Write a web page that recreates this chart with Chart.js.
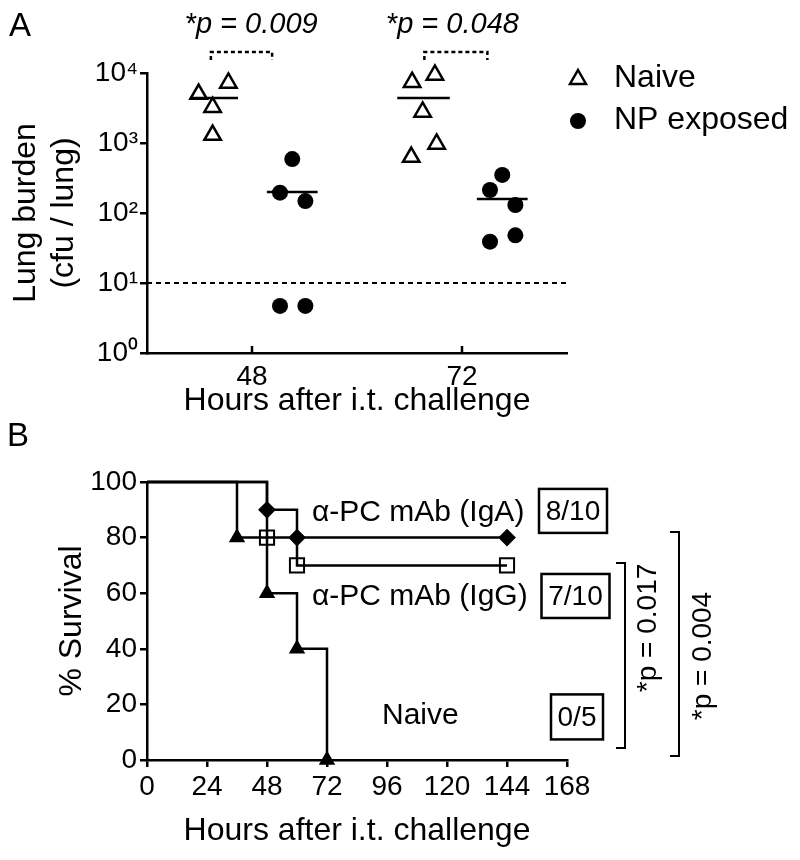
<!DOCTYPE html>
<html>
<head>
<meta charset="utf-8">
<title>Lung burden and survival</title>
<script src="https://cdn.jsdelivr.net/npm/chart.js@4.4.1/dist/chart.umd.min.js"></script>
<style>
  html, body { margin: 0; padding: 0; background: #fff; }
  #wrap { position: relative; width: 800px; height: 860px; }
  #panelA { position: absolute; left: 0; top: 0; }
  #panelB { position: absolute; left: 0; top: 420px; }
</style>
</head>
<body>
<div id="wrap">
  <canvas id="panelA" width="800" height="420"></canvas>
  <canvas id="panelB" width="800" height="440"></canvas>
</div>
<script>
// ---------------------------
// Panel A data: lung burden (cfu / lung), x = hours (jittered around 48 / 72)
// ---------------------------
const naive48Hours = [41.9, 45.3, 43.5, 43.5];
const naive48Cfu   = [5000, 7200, 3250, 1300];
const np48Hours    = [52.6, 51.2, 54.1, 51.2, 54.1];
const np48Cfu      = [590, 195, 148, 4.7, 4.7];
const naive72Hours = [66.3, 68.9, 67.5, 69.1, 66.2];
const naive72Cfu   = [7400, 9400, 2780, 970, 630];
const np72Hours    = [76.6, 75.2, 78.1, 78.1, 75.2];
const np72Cfu      = [350, 213, 130, 48, 39];

// median bars
const medianFrom   = [40.9, 49.7, 64.6, 73.7];
const medianTo     = [46.4, 55.5, 70.6, 79.5];
const medianCfu    = [4400, 200, 4400, 158];

const detectionLimit = 10;
const xTicksA = [48, 72];
const yTicksA = [1, 10, 100, 1000, 10000];

// significance brackets (hours) and labels
const bracketFrom = [43.3, 67.7];
const bracketTo   = [50.3, 74.9];
const bracketLow  = 15300;
const bracketHigh = 19900;
const pLabelsA    = ['*p = 0.009', '*p = 0.048'];
const pLabelHours = [47.9, 70.9];

// ---------------------------
// Panel B data: Kaplan-Meier survival (%)
// ---------------------------
const naiveHours = [0, 36, 48, 60, 72];
const naiveSurv  = [100, 80, 60, 40, 0];
const igaHours   = [0, 48, 60, 144];
const igaSurv    = [100, 90, 80, 80];
const iggHours   = [0, 48, 60, 144];
const iggSurv    = [100, 80, 70, 70];

const FONT = "'Liberation Sans', Arial, Helvetica, sans-serif";
const SUP = ['\u2070', '\u00B9', '\u00B2', '\u00B3', '\u2074'];

Chart.defaults.font.family = FONT;
Chart.defaults.color = '#000';

const pts = (xs, ys) => xs.map((x, i) => ({ x, y: ys[i] }));

// ---------------------------
// Panel A extras: inward ticks, p-values, letter, legend
// ---------------------------
const panelADecor = {
  id: 'panelADecor',
  afterDraw(chart) {
    const { ctx, scales: { x, y } } = chart;
    ctx.save();
    ctx.strokeStyle = '#000';
    ctx.fillStyle = '#000';
    ctx.lineWidth = 2.5;
    xTicksA.forEach(h => {
      const px = x.getPixelForValue(h);
      ctx.beginPath();
      ctx.moveTo(px, y.bottom);
      ctx.lineTo(px, y.bottom - 7);
      ctx.stroke();
    });

    ctx.textAlign = 'center';
    ctx.textBaseline = 'middle';
    ctx.font = `italic 29px ${FONT}`;
    pLabelsA.forEach((t, i) => ctx.fillText(t, x.getPixelForValue(pLabelHours[i]), 25));

    ctx.textAlign = 'left';
    ctx.font = `33px ${FONT}`;
    ctx.fillText('A', 9, 27);

    // legend
    const lx = 578;
    ctx.lineWidth = 2.5;
    ctx.beginPath();
    ctx.moveTo(lx, 70);
    ctx.lineTo(lx + 8, 84);
    ctx.lineTo(lx - 8, 84);
    ctx.closePath();
    ctx.fillStyle = '#fff';
    ctx.fill();
    ctx.stroke();
    ctx.fillStyle = '#000';
    ctx.beginPath();
    ctx.arc(lx, 121, 8, 0, Math.PI * 2);
    ctx.fill();
    ctx.font = `32px ${FONT}`;
    ctx.fillText('Naive', 614, 78);
    ctx.fillText('NP exposed', 614, 120);
    ctx.restore();
  }
};

const lineSet = (data, extra) => Object.assign({
  data, showLine: true, borderColor: '#000', borderWidth: 2.5,
  pointRadius: 0, clip: false
}, extra || {});

const datasetsA = [
  { label: 'Naive', data: pts(naive48Hours.concat(naive72Hours), naive48Cfu.concat(naive72Cfu)),
    pointStyle: 'triangle', pointRadius: 9.5, pointBorderWidth: 2.5,
    pointBackgroundColor: 'rgba(255,255,255,0)', pointBorderColor: '#000', clip: false },
  { label: 'NP exposed', data: pts(np48Hours.concat(np72Hours), np48Cfu.concat(np72Cfu)),
    pointStyle: 'circle', pointRadius: 8, pointBorderWidth: 0,
    pointBackgroundColor: '#000', pointBorderColor: '#000', clip: false },
  lineSet([{ x: 36, y: detectionLimit }, { x: 84, y: detectionLimit }], { borderDash: [5, 4], borderWidth: 2 })
];
medianCfu.forEach((v, i) => {
  datasetsA.push(lineSet([{ x: medianFrom[i], y: v }, { x: medianTo[i], y: v }]));
});
bracketFrom.forEach((f, i) => {
  datasetsA.push(lineSet([
    { x: f, y: bracketLow }, { x: f, y: bracketHigh },
    { x: bracketTo[i], y: bracketHigh }, { x: bracketTo[i], y: bracketLow }
  ], { borderDash: [4, 3], borderWidth: 2.5 }));
});

new Chart(document.getElementById('panelA'), {
  type: 'scatter',
  data: { datasets: datasetsA },
  options: {
    responsive: false,
    animation: false,
    devicePixelRatio: 1,
    layout: { padding: { left: 0, top: 73, right: 233, bottom: 0 } },
    plugins: { legend: { display: false }, tooltip: { enabled: false } },
    scales: {
      x: {
        type: 'linear', min: 36, max: 84,
        afterBuildTicks: s => { s.ticks = xTicksA.map(v => ({ value: v })); },
        afterFit: s => { s.height = 67; },
        grid: { display: false },
        border: { display: true, color: '#000', width: 2.5 },
        ticks: { font: { size: 28 }, color: '#000', padding: -1, maxRotation: 0, autoSkip: false },
        title: { display: true, text: 'Hours after i.t. challenge', color: '#000',
                 font: { size: 32 }, padding: { top: 0, bottom: 0 } }
      },
      y: {
        type: 'logarithmic', min: 1, max: 10000,
        afterBuildTicks: s => { s.ticks = yTicksA.map(v => ({ value: v })); },
        afterFit: s => { s.width = 147; },
        grid: { drawOnChartArea: false, color: '#000', lineWidth: 2.5, tickLength: 7 },
        border: { display: true, color: '#000', width: 2.5 },
        ticks: { font: { size: 28 }, color: '#000', padding: 2,
                 callback: v => '10' + SUP[Math.round(Math.log10(v))] },
        title: { display: true, text: ['Lung burden', '(cfu / lung)'], color: '#000',
                 font: { size: 32 }, padding: { top: 7, bottom: 0 } }
      }
    }
  },
  plugins: [panelADecor]
});

// ---------------------------
// Panel B extras: curve labels, n/N boxes, brackets
// ---------------------------
const curveLabels = [
  { text: '\u03B1-PC mAb (IgA)', x: 66, y: 88.8 },
  { text: '\u03B1-PC mAb (IgG)', x: 66, y: 58.6 },
  { text: 'Naive', x: 94, y: 15.8 }
];
const countBoxes = [
  { text: '8/10', x: 170.4, y: 89.6, w: 68, h: 44 },
  { text: '7/10', x: 171.4, y: 59, w: 68, h: 44 },
  { text: '0/5', x: 172, y: 15.5, w: 52, h: 45 }
];
const survBrackets = [
  { x: 191.2, top: 70.9, bottom: 4.3, text: '*p = 0.017', tx: 200.4, ty: 47.5 },
  { x: 212.8, top: 82, bottom: 1.4, text: '*p = 0.004', tx: 222.4, ty: 37.4 }
];

const panelBDecor = {
  id: 'panelBDecor',
  afterDraw(chart) {
    const { ctx, scales: { x, y } } = chart;
    ctx.save();
    ctx.fillStyle = '#000';
    ctx.strokeStyle = '#000';
    ctx.textBaseline = 'middle';
    ctx.textAlign = 'left';
    ctx.font = `33px ${FONT}`;
    ctx.fillText('B', 7, 17);
    ctx.font = `30px ${FONT}`;
    curveLabels.forEach(l => ctx.fillText(l.text, x.getPixelForValue(l.x), y.getPixelForValue(l.y)));

    ctx.textAlign = 'center';
    ctx.font = `28px ${FONT}`;
    ctx.lineWidth = 2.5;
    countBoxes.forEach(b => {
      const cx = x.getPixelForValue(b.x), cy = y.getPixelForValue(b.y);
      ctx.strokeRect(cx - b.w / 2, cy - b.h / 2, b.w, b.h);
      ctx.fillText(b.text, cx, cy + 1);
    });

    ctx.lineWidth = 2;
    survBrackets.forEach(b => {
      const bx = x.getPixelForValue(b.x);
      const t = y.getPixelForValue(b.top), btm = y.getPixelForValue(b.bottom);
      ctx.beginPath();
      ctx.moveTo(bx - 9, t);
      ctx.lineTo(bx, t);
      ctx.lineTo(bx, btm);
      ctx.lineTo(bx - 9, btm);
      ctx.stroke();
      ctx.save();
      ctx.translate(x.getPixelForValue(b.tx), y.getPixelForValue(b.ty));
      ctx.rotate(-Math.PI / 2);
      ctx.fillText(b.text, 0, 0);
      ctx.restore();
    });
    ctx.restore();
  }
};

const kmSet = (label, hours, surv, style, radius, fill) => ({
  label,
  data: pts(hours, surv),
  stepped: 'before',
  borderColor: '#000',
  borderWidth: 2.5,
  fill: false,
  clip: false,
  pointStyle: style,
  pointRadius: hours.map((h, i) => (i === 0 ? 0 : radius)),
  pointBackgroundColor: fill,
  pointBorderColor: '#000',
  pointBorderWidth: 2
});

new Chart(document.getElementById('panelB'), {
  type: 'line',
  data: {
    datasets: [
      kmSet('\u03B1-PC mAb (IgA)', igaHours, igaSurv, 'rectRot', 7.5, '#000'),
      kmSet('\u03B1-PC mAb (IgG)', iggHours, iggSurv, 'rect', 10, 'rgba(255,255,255,0)'),
      kmSet('Naive', naiveHours, naiveSurv, 'triangle', 7.5, '#000')
    ]
  },
  options: {
    responsive: false,
    animation: false,
    devicePixelRatio: 1,
    layout: { padding: { left: 0, top: 62, right: 233, bottom: 0 } },
    plugins: { legend: { display: false }, tooltip: { enabled: false } },
    scales: {
      x: {
        type: 'linear', min: 0, max: 168,
        afterFit: s => { s.height = 100; },
        grid: { drawOnChartArea: false, color: '#000', lineWidth: 2.5, tickLength: 7 },
        border: { display: true, color: '#000', width: 2.5 },
        ticks: { stepSize: 24, font: { size: 28 }, color: '#000', padding: 3, maxRotation: 0, autoSkip: false },
        title: { display: true, text: 'Hours after i.t. challenge', color: '#000',
                 font: { size: 32 }, padding: { top: 0, bottom: 10 } }
      },
      y: {
        min: 0, max: 100,
        afterFit: s => { s.width = 147; },
        grid: { drawOnChartArea: false, color: '#000', lineWidth: 2.5, tickLength: 7 },
        border: { display: true, color: '#000', width: 2.5 },
        ticks: { stepSize: 20, font: { size: 28 }, color: '#000', padding: 3 },
        title: { display: true, text: '% Survival', color: '#000',
                 font: { size: 32 }, padding: { top: 53, bottom: 0 } }
      }
    }
  },
  plugins: [panelBDecor]
});
</script>
</body>
</html>
